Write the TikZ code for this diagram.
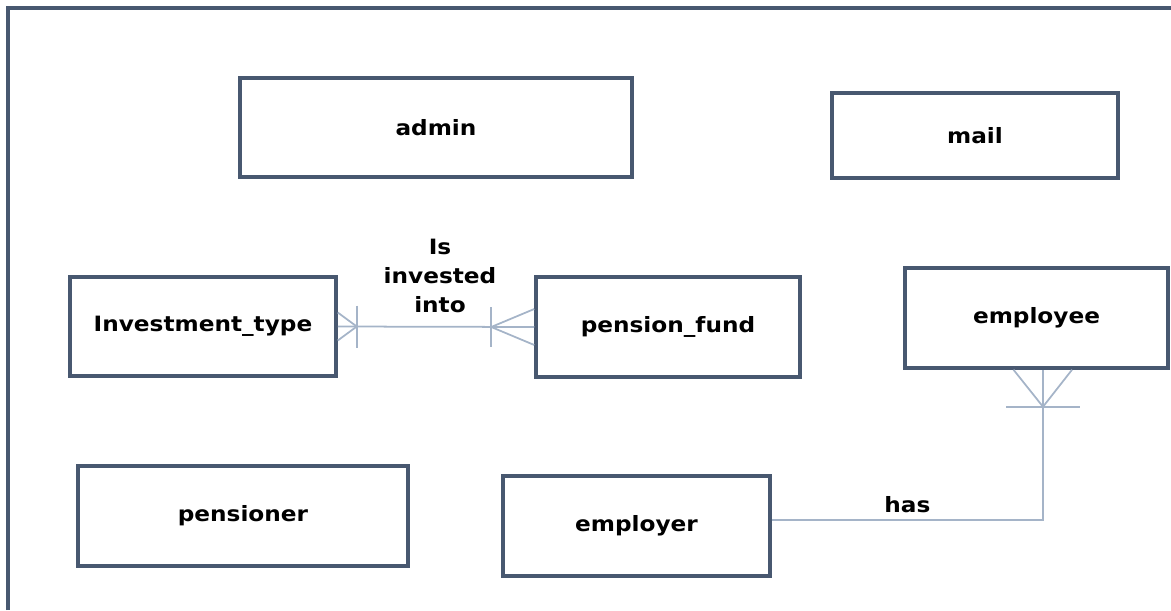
\documentclass[tikz,border=0pt]{standalone}
\usepackage{fontspec}
\newfontfamily\erfont[FakeStretch=1.1]{DejaVu Sans}
\usetikzlibrary{calc}
\definecolor{boxline}{RGB}{72,88,112}
\definecolor{relline}{RGB}{165,180,200}
\tikzset{entity/.style={draw=boxline,line width=2pt,rectangle,font=\erfont\bfseries\fontsize{12}{16}\selectfont}}
\tikzset{rel/.style={draw=relline,line width=1pt}}
\tikzset{rellbl/.style={font=\erfont\bfseries\fontsize{12}{16.5}\selectfont,align=center}}

\begin{document}
\begin{tikzpicture}[x=0.2mm,y=-0.2mm]
  \useasboundingbox (0,0) rectangle (1171,610);
  \draw[boxline,line width=2pt] (8,610) -- (8,8) -- (1171,8);
  % entities
  \node[entity,minimum width=78.4mm,minimum height=19.8mm] (admin) at (436,127.5) {admin};
  \node[entity,minimum width=57.2mm,minimum height=17mm] (mail) at (975,135.5) {mail};
  \node[entity,minimum width=53.2mm,minimum height=19.8mm] (itype) at (203,326.5) {Investment\_type};
  \node[entity,minimum width=52.8mm,minimum height=20mm] (pfund) at (668,327) {pension\_fund};
  \node[entity,minimum width=52.6mm,minimum height=20mm] (employee) at (1036.5,318) {employee};
  \node[entity,minimum width=66mm,minimum height=20mm] (pensioner) at (243,516) {pensioner};
  \node[entity,minimum width=53.4mm,minimum height=20mm] (employer) at (636.5,526) {employer};
  % relationships
  \draw[rel] (itype.east) -- (pfund.west);
  \node[rellbl] (invlbl) at (440,276) {Is\\invested\\into};
  \draw[rel] ($(itype.east)+(0,-14)$) -- ($(itype.east)+(19,0)$) -- ($(itype.east)+(0,14)$);
  \draw[rel] ($(itype.east)+(19,-21)$) -- ($(itype.east)+(19,21)$);
  \draw[rel] ($(pfund.west)+(0,-18)$) -- ($(pfund.west)+(-43,0)$) -- ($(pfund.west)+(0,18)$);
  \draw[rel] ($(pfund.west)+(-43,-20)$) -- ($(pfund.west)+(-43,20)$);
  \draw[rel] ([yshift=1.2mm]employer.east) -| ([xshift=1.3mm]employee.south)
    node[pos=0.25,above,rellbl] (haslbl) {has};
  \draw[rel] ($(employee.south)+(-23,0)$) -- ($(employee.south)+(6.5,37)$) -- ($(employee.south)+(35.5,0)$);
  \draw[rel] ($(employee.south)+(-30.5,37)$) -- ($(employee.south)+(43.5,37)$);
\end{tikzpicture}
\end{document}
